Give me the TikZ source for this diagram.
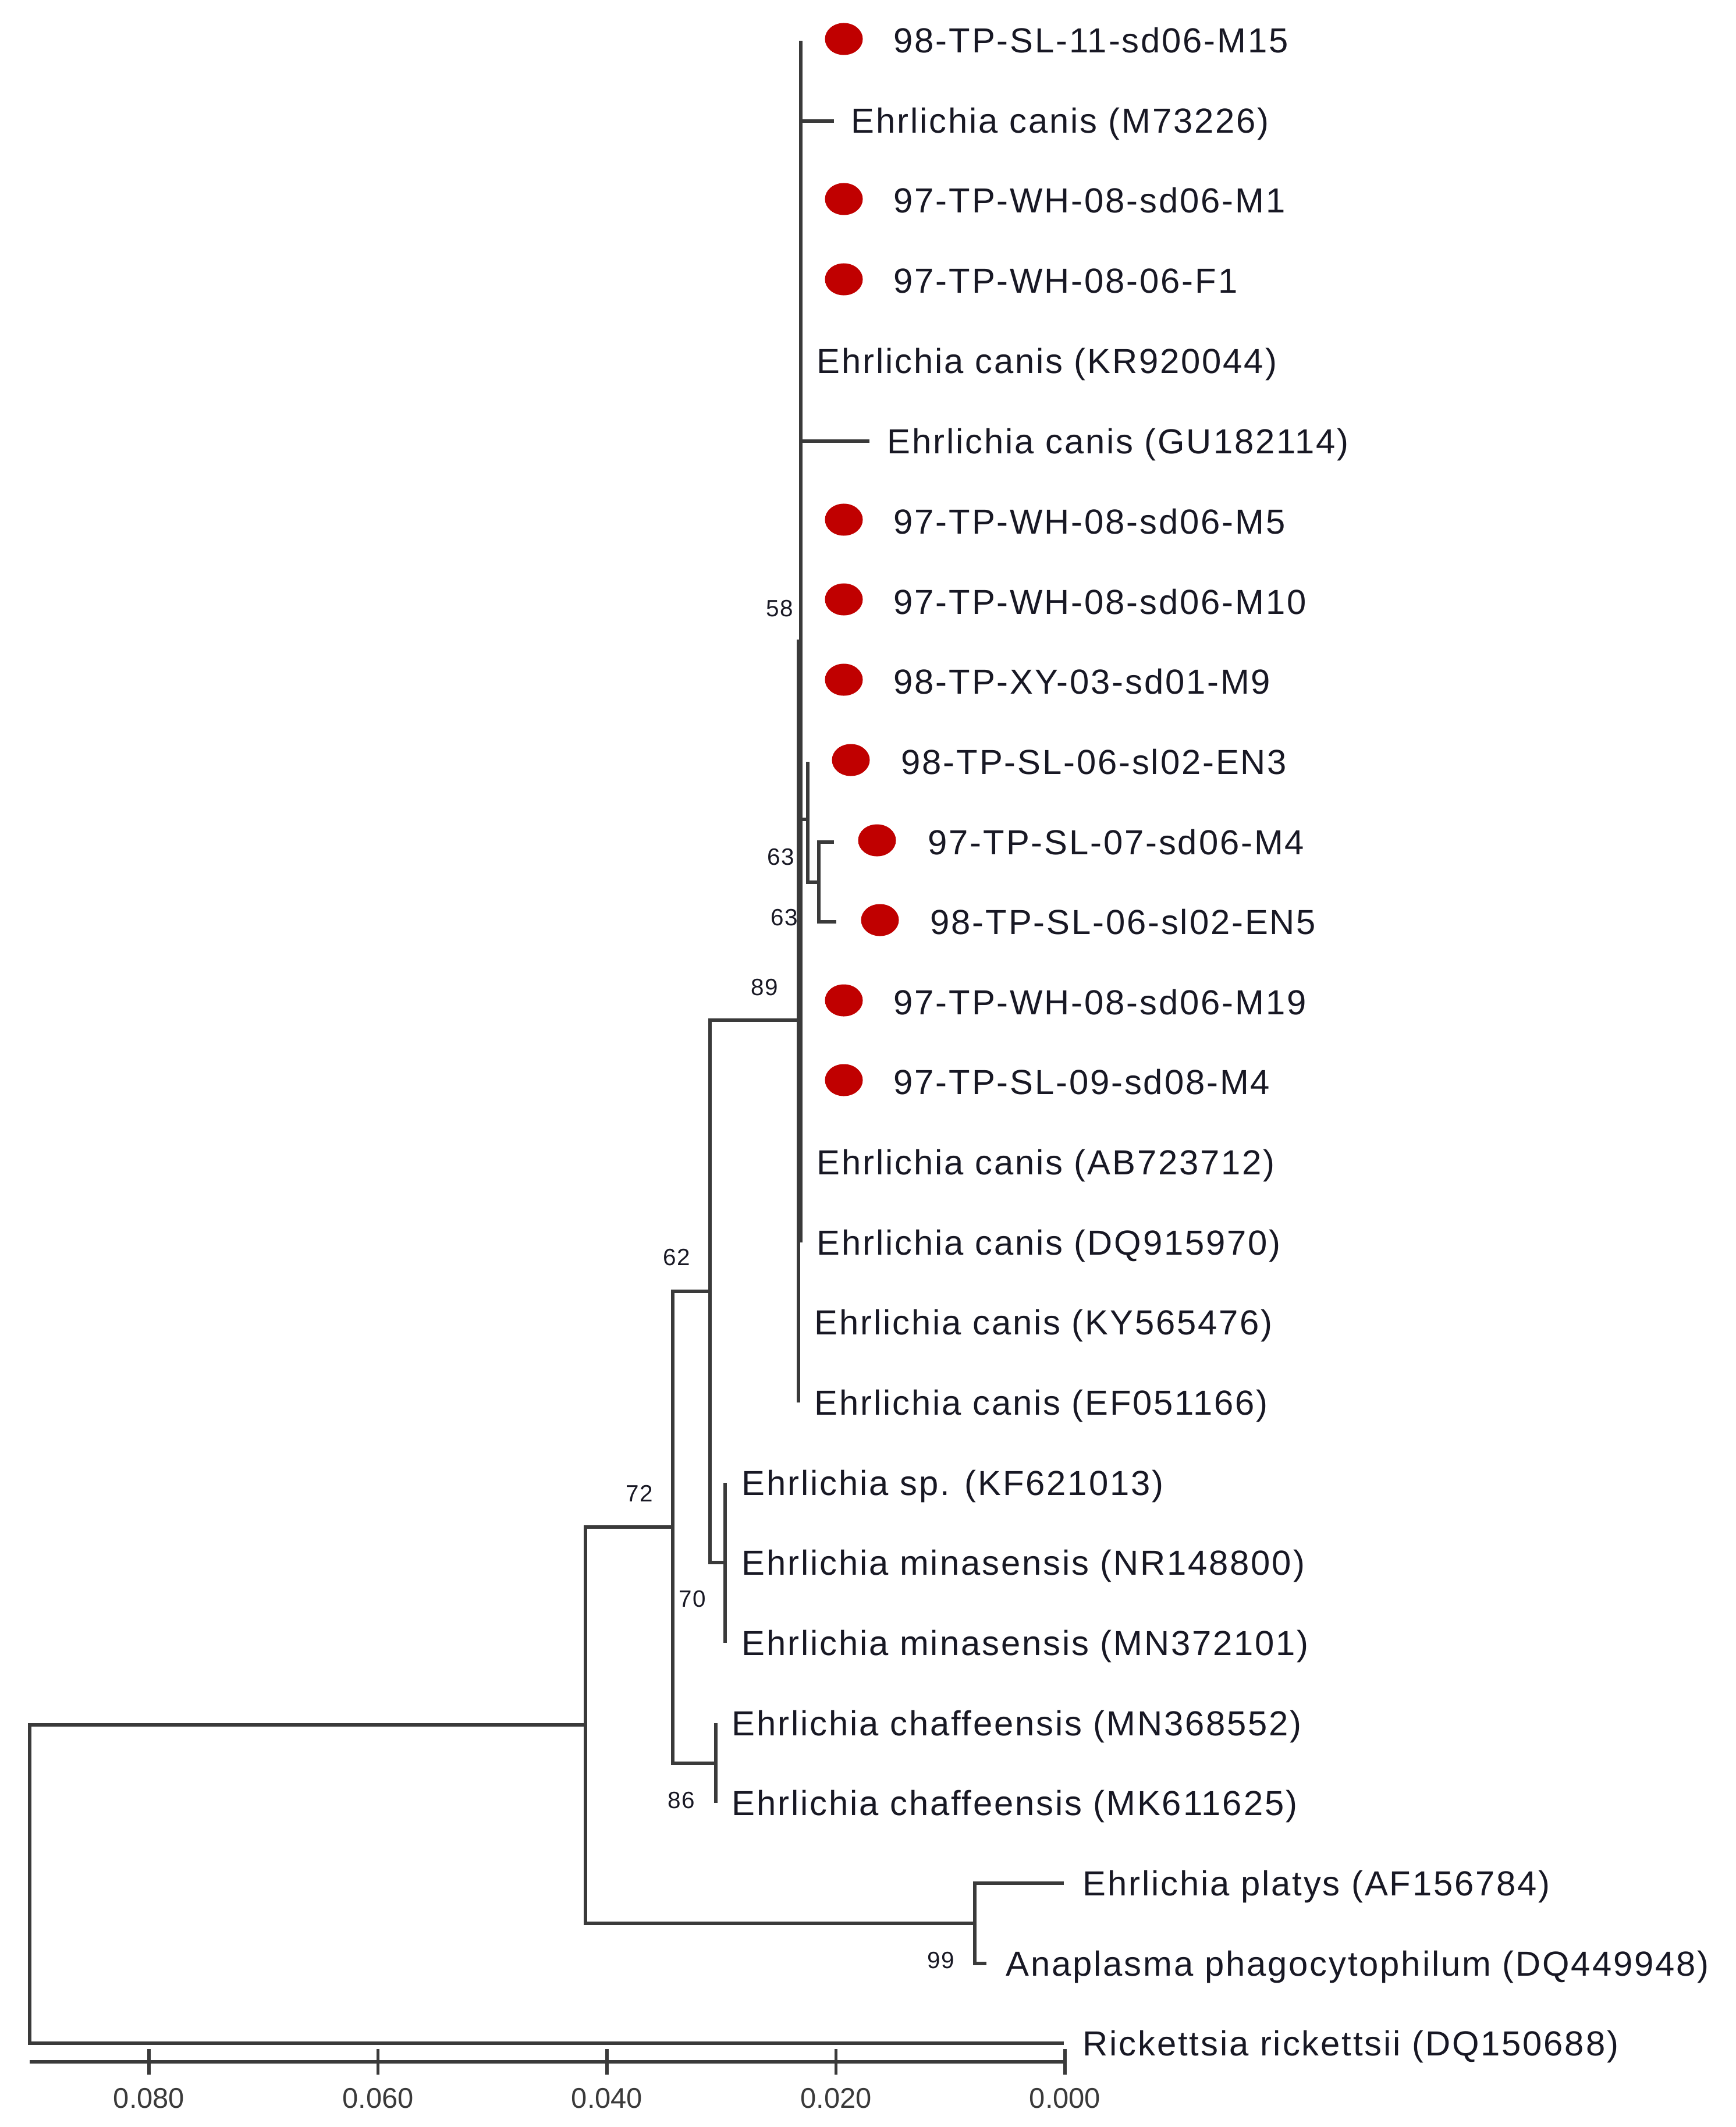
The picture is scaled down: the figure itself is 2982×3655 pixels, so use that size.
\documentclass[tikz,border=0pt]{standalone}
\usepackage{fontspec}
\setmainfont{Liberation Sans}
\newfontfamily\labfont{Liberation Sans}[LetterSpace=4.8]
\newfontfamily\plainfont{Liberation Sans}
\usetikzlibrary{shapes.geometric}
\definecolor{dotred}{RGB}{192,0,0}
\definecolor{lineC}{RGB}{58,58,58}
\definecolor{txtC}{RGB}{24,24,36}
\begin{document}
\begin{tikzpicture}[x=0.01cm,y=-0.01cm,
  br/.style={draw=lineC,line width=1.45pt,line join=miter},
  lab/.style={anchor=base west,inner sep=0pt,text=txtC,font=\labfont\fontsize{17.0}{20}\selectfont},
  boot/.style={anchor=center,inner sep=0pt,text=txtC,font=\labfont\fontsize{11.5}{13}\selectfont},
  tick/.style={anchor=center,inner sep=0pt,text=lineC,font=\plainfont\fontsize{13.9}{16}\selectfont},
  dotm/.style={ellipse,fill=dotred,draw=none,minimum width=0.65cm,minimum height=0.55cm,inner sep=0pt}]
\useasboundingbox (0,0) rectangle (2982,3655);
\fill[white] (0,0) rectangle (2982,3655);

% internal nodes
\coordinate (root) at (51,3238);
\coordinate (nA) at (1006,2964);
\coordinate (nP) at (1675,3305);
\coordinate (n72) at (1156,2624);
\coordinate (nC) at (1230,3030);
\coordinate (n62) at (1220,2219);
\coordinate (n70) at (1246,2685);
\coordinate (n89) at (1372,1753);
\coordinate (n58) at (1376,1102);
\coordinate (n63a) at (1388,1408);
\coordinate (n63b) at (1407,1516);

% leaf tips
\coordinate (t1) at (1376,70);
\coordinate (t2) at (1433,208);
\coordinate (t6) at (1494,758);
\coordinate (t10) at (1388,1309);
\coordinate (t11) at (1433,1447);
\coordinate (t12) at (1437,1584);
\coordinate (t16) at (1376,2135);
\coordinate (t17) at (1372,2272);
\coordinate (t18) at (1372,2410);
\coordinate (t19) at (1246,2548);
\coordinate (t21) at (1246,2823);
\coordinate (t22) at (1230,2961);
\coordinate (t23) at (1230,3098);
\coordinate (t24) at (1828,3236);
\coordinate (t25) at (1695,3374);
\coordinate (t26) at (1828,3511);

% branches
\draw[br] (root) |- (nA);
\draw[br] (root) |- (t26);
\draw[br] (nA) |- (n72);
\draw[br] (nA) |- (nP);
\draw[br] (nP) |- (t24);
\draw[br] (nP) |- (t25);
\draw[br] (n72) |- (n62);
\draw[br] (n72) |- (nC);
\draw[br] (nC) |- (t22);
\draw[br] (nC) |- (t23);
\draw[br] (n62) |- (n89);
\draw[br] (n62) |- (n70);
\draw[br] (n70) |- (t19);
\draw[br] (n70) |- (t21);
\draw[br] (n89) |- (n58);
\draw[br] (n89) |- (t18);
\draw[br] (n58) |- (t1);
\draw[br] (n58) |- (t16);
\draw[br] (n58) |- (t2);
\draw[br] (n58) |- (t6);
\draw[br] (n58) |- (n63a);
\draw[br] (n63a) |- (t10);
\draw[br] (n63a) |- (n63b);
\draw[br] (n63b) |- (t11);
\draw[br] (n63b) |- (t12);

% red markers
\node[dotm] (d1) at (1450,67) {};
\node[dotm] (d3) at (1450,342) {};
\node[dotm] (d4) at (1450,480) {};
\node[dotm] (d7) at (1450,893) {};
\node[dotm] (d8) at (1450,1030) {};
\node[dotm] (d9) at (1450,1168) {};
\node[dotm] (d10) at (1462,1306) {};
\node[dotm] (d11) at (1507,1444) {};
\node[dotm] (d12) at (1512,1581) {};
\node[dotm] (d13) at (1450,1719) {};
\node[dotm] (d14) at (1450,1856) {};

% leaf labels
\node[lab] (L1) at (1535,91) {98-TP-SL-11-sd06-M15};
\node[lab] (L2) at (1462,229) {Ehrlichia canis (M73226)};
\node[lab] (L3) at (1535,366) {97-TP-WH-08-sd06-M1};
\node[lab] (L4) at (1535,504) {97-TP-WH-08-06-F1};
\node[lab] (L5) at (1403,642) {Ehrlichia canis (KR920044)};
\node[lab] (L6) at (1524,779) {Ehrlichia canis (GU182114)};
\node[lab] (L7) at (1535,917) {97-TP-WH-08-sd06-M5};
\node[lab] (L8) at (1535,1055) {97-TP-WH-08-sd06-M10};
\node[lab] (L9) at (1535,1192) {98-TP-XY-03-sd01-M9};
\node[lab] (L10) at (1548,1330) {98-TP-SL-06-sl02-EN3};
\node[lab] (L11) at (1594,1468) {97-TP-SL-07-sd06-M4};
\node[lab] (L12) at (1598,1605) {98-TP-SL-06-sl02-EN5};
\node[lab] (L13) at (1535,1743) {97-TP-WH-08-sd06-M19};
\node[lab] (L14) at (1535,1880) {97-TP-SL-09-sd08-M4};
\node[lab] (L15) at (1403,2018) {Ehrlichia canis (AB723712)};
\node[lab] (L16) at (1403,2156) {Ehrlichia canis (DQ915970)};
\node[lab] (L17) at (1399,2293) {Ehrlichia canis (KY565476)};
\node[lab] (L18) at (1399,2431) {Ehrlichia canis (EF051166)};
\node[lab] (L19) at (1274,2569) {Ehrlichia sp. (KF621013)};
\node[lab] (L20) at (1274,2706) {Ehrlichia minasensis (NR148800)};
\node[lab] (L21) at (1274,2844) {Ehrlichia minasensis (MN372101)};
\node[lab] (L22) at (1257,2982) {Ehrlichia chaffeensis (MN368552)};
\node[lab] (L23) at (1257,3119) {Ehrlichia chaffeensis (MK611625)};
\node[lab] (L24) at (1860,3257) {Ehrlichia platys (AF156784)};
\node[lab] (L25) at (1728,3395) {Anaplasma phagocytophilum (DQ449948)};
\node[lab] (L26) at (1860,3532) {Rickettsia rickettsii (DQ150688)};

% bootstrap values
\node[boot] (b58) at (1340,1046) {58};
\node[boot] (b63a) at (1342,1473) {63};
\node[boot] (b63b) at (1348,1577) {63};
\node[boot] (b89) at (1314,1697) {89};
\node[boot] (b62) at (1163,2161) {62};
\node[boot] (b72) at (1099,2566) {72};
\node[boot] (b70) at (1190,2748) {70};
\node[boot] (b86) at (1171,3094) {86};
\node[boot] (b99) at (1617,3369) {99};

% scale bar
\coordinate (s0) at (51,3543);
\coordinate (s1) at (1830,3543);
\draw[br] (s0) -- (s1);
\foreach \k/\xx/\tx in {0/1830/0.000,1/1436.5/0.020,2/1043/0.040,3/649.5/0.060,4/256/0.080}{
  \coordinate (k\k a) at (\xx,3521);
  \coordinate (k\k b) at (\xx,3565);
  \draw[br] (k\k a) -- (k\k b);
  \node[tick] (tl\k) at (\xx,3606) {\tx};
}
\end{tikzpicture}
\end{document}
